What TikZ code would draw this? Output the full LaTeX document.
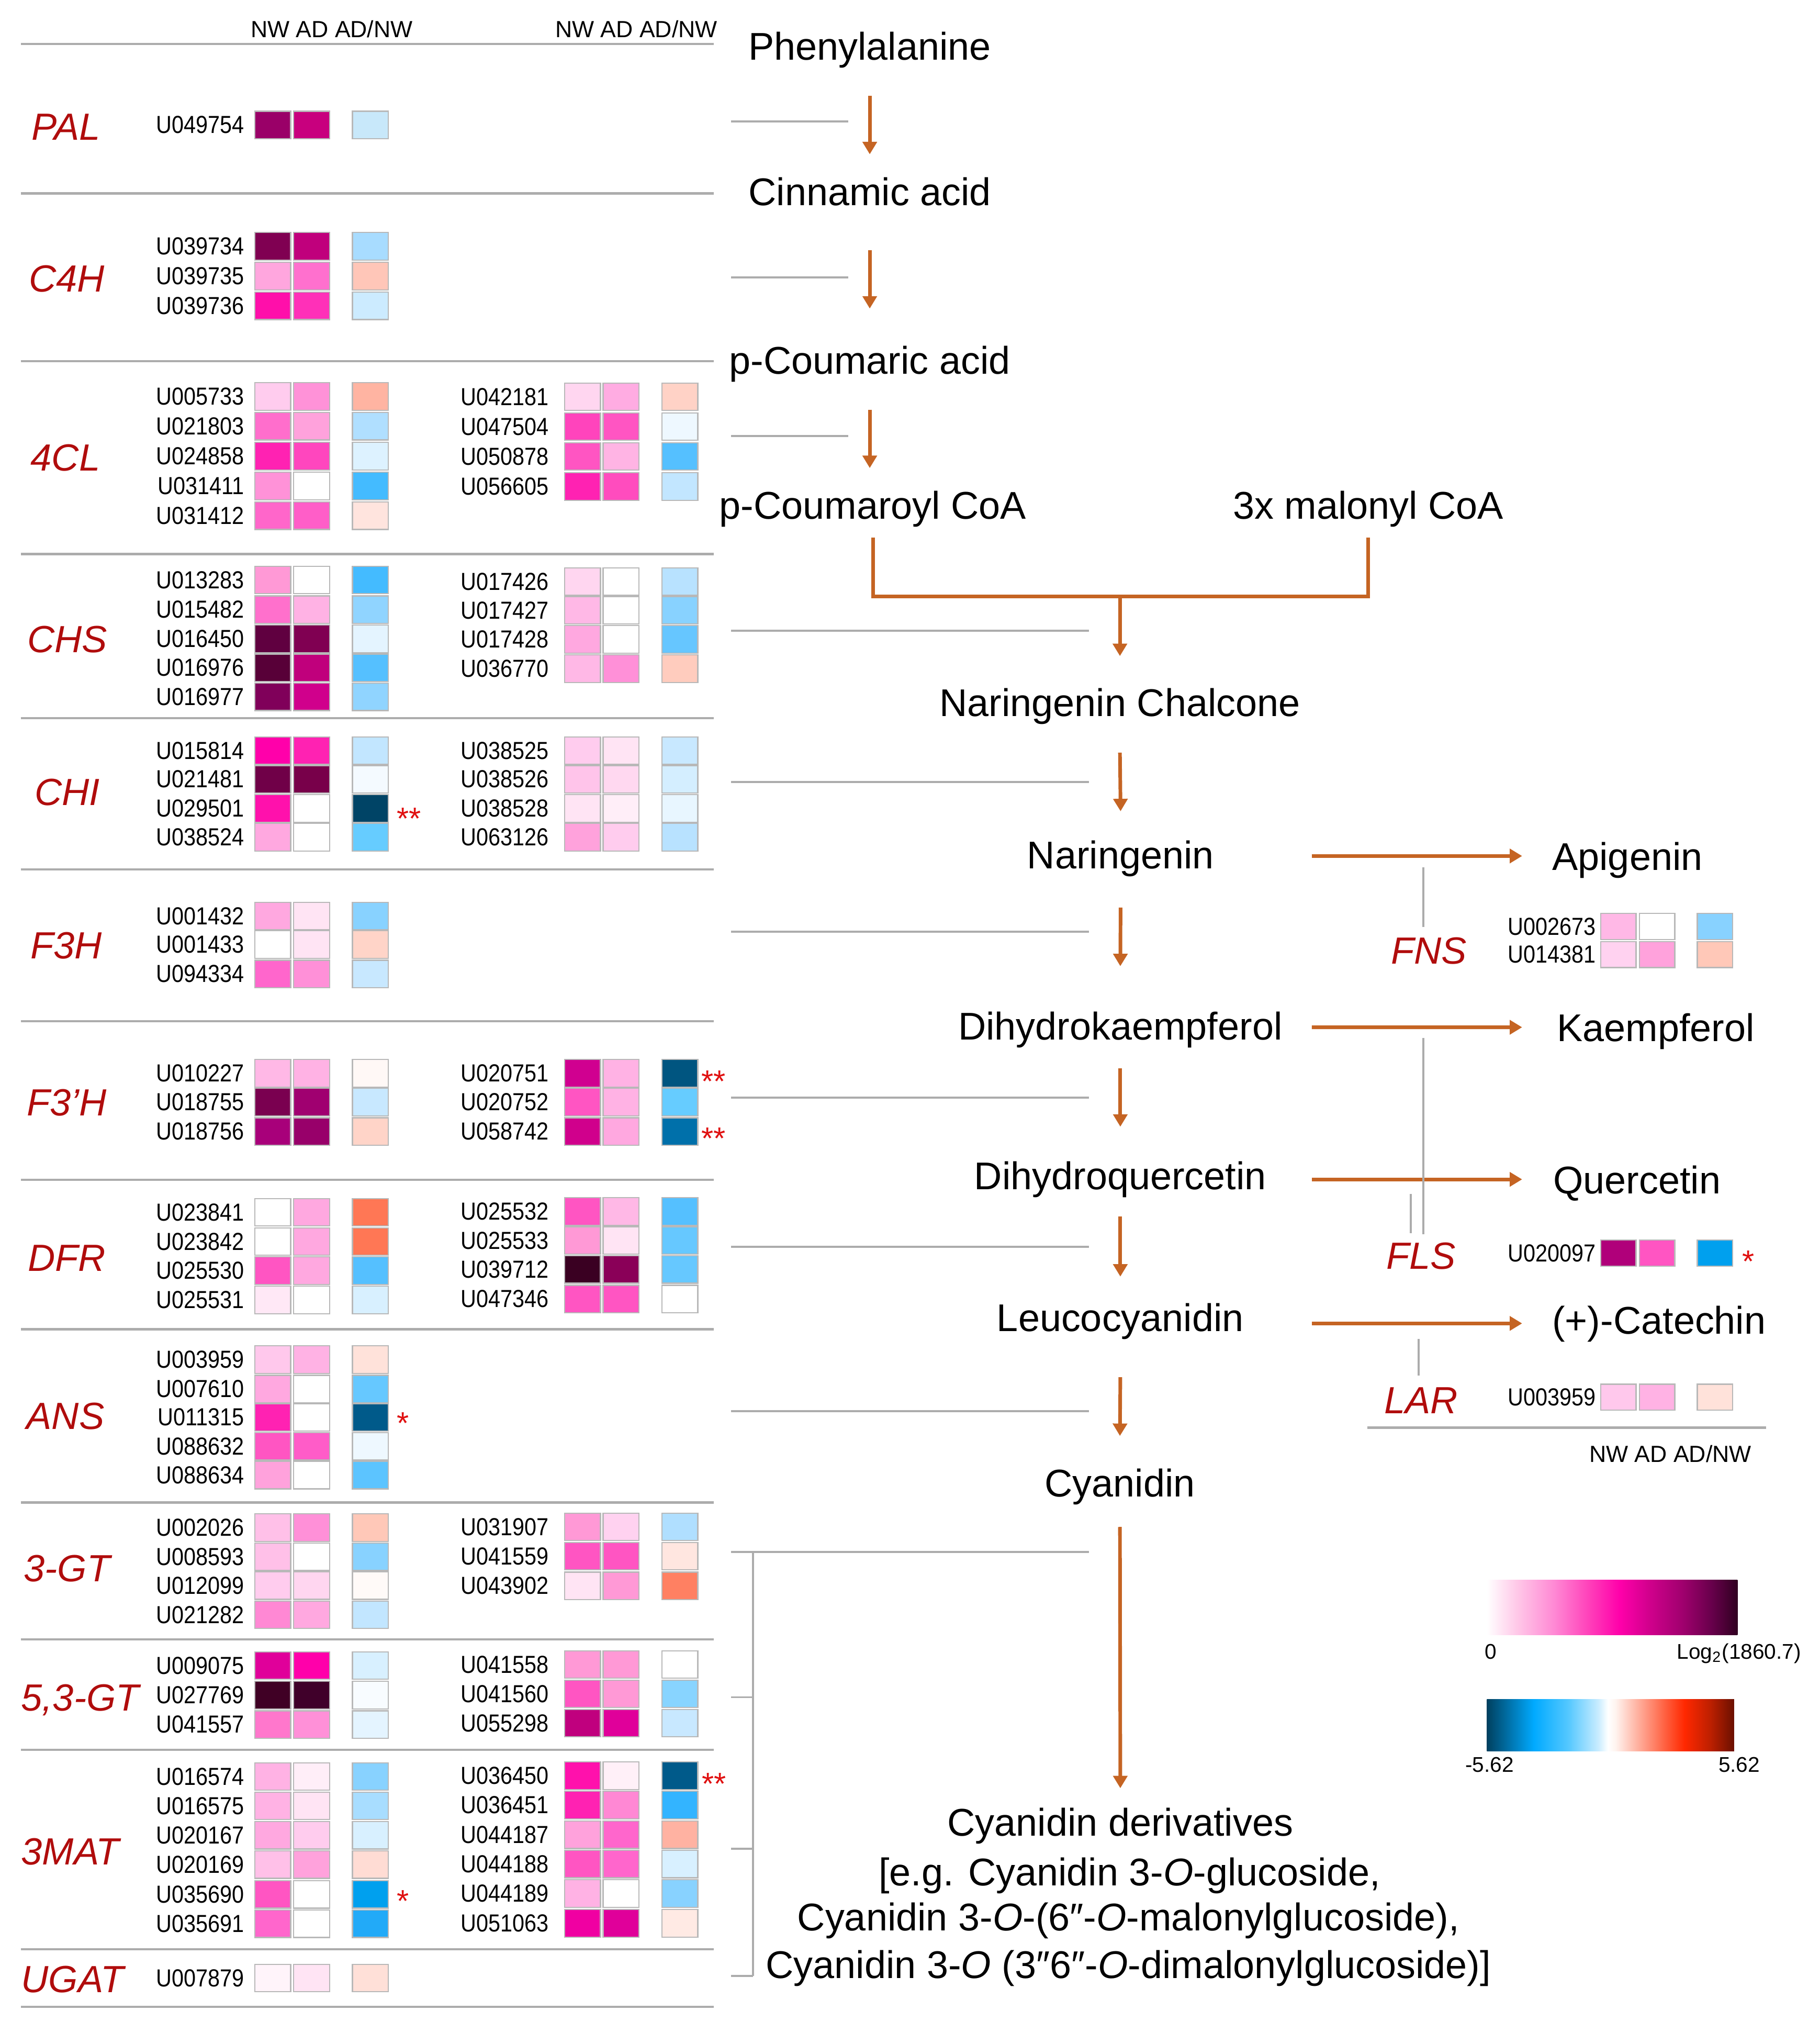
\documentclass[tikz,border=0pt]{standalone}
\usepackage{fontspec}
\setmainfont{Liberation Sans}
\newfontfamily\genefont[FakeStretch=0.88]{Liberation Sans}
\usetikzlibrary{arrows.meta,calc}
\definecolor{famred}{RGB}{176,12,12}
\definecolor{starred}{RGB}{224,16,16}
\definecolor{arrowor}{RGB}{197,100,35}
\definecolor{sepgray}{RGB}{172,172,172}
\definecolor{pk1}{HTML}{FFC8E8}
\definecolor{pk2}{HTML}{FF88D4}
\definecolor{pk3}{HTML}{FF44BB}
\definecolor{pk4}{HTML}{FF00AA}
\definecolor{pk5}{HTML}{D0008C}
\definecolor{pk6}{HTML}{A0006E}
\definecolor{pk7}{HTML}{66004A}
\definecolor{pk8}{HTML}{300020}
\definecolor{bl1}{HTML}{00405F}
\definecolor{bl2}{HTML}{00AAFF}
\definecolor{bl3}{HTML}{55C8FF}
\definecolor{bl4}{HTML}{C8ECFF}
\definecolor{rd1}{HTML}{FFF4F0}
\definecolor{rd2}{HTML}{FFB8A8}
\definecolor{rd3}{HTML}{FF6040}
\definecolor{rd4}{HTML}{FF2800}
\definecolor{rd5}{HTML}{C02000}
\definecolor{rd6}{HTML}{6B1000}
\pgfdeclarehorizontalshading{pinkbar}{100bp}{color(0bp)=(white); color(25bp)=(white); color(31bp)=(pk1); color(38.5bp)=(pk2); color(45bp)=(pk3); color(51.5bp)=(pk4); color(57.5bp)=(pk5); color(64bp)=(pk6); color(70bp)=(pk7); color(75bp)=(pk8); color(100bp)=(pk8)}
\pgfdeclarehorizontalshading{bluered}{100bp}{color(0bp)=(bl1); color(25bp)=(bl1); color(34.5bp)=(bl2); color(41.5bp)=(bl3); color(47.5bp)=(bl4); color(49.5bp)=(white); color(51bp)=(rd1); color(55bp)=(rd2); color(61bp)=(rd3); color(65bp)=(rd4); color(70bp)=(rd5); color(75bp)=(rd6); color(100bp)=(rd6)}
\tikzset{
  cellbox/.style={draw=black!28, line width=0.45pt, minimum width=13.85pt, minimum height=10.6pt, inner sep=0pt, outer sep=0pt},
  pcell/.style={cellbox, minimum width=13.65pt, minimum height=10pt},
  geneid/.style={font=\genefont\fontsize{9.5}{11}\selectfont, inner sep=0pt, anchor=east},
  famlabel/.style={font=\fontsize{14.6}{17}\selectfont\itshape, text=famred, inner sep=0pt, anchor=base},
  pathtext/.style={font=\fontsize{14.9}{18}\selectfont, inner sep=0pt, anchor=base},
  hdrtext/.style={font=\fontsize{9}{10}\selectfont, inner sep=0pt, anchor=base west},
  legtext/.style={font=\fontsize{8.2}{10}\selectfont, inner sep=0pt, anchor=base west},
  startext/.style={font=\fontsize{12}{14}\selectfont, text=starred, inner sep=0pt, anchor=base west},
  sepline/.style={draw=sepgray, line width=0.85pt},
  gline/.style={draw=sepgray, line width=0.8pt},
  oarrow/.style={draw=arrowor, line width=1.4pt, -{Triangle[width=5.4pt,length=4.8pt]}},
  oline/.style={draw=arrowor, line width=1.4pt, line join=miter},
}
\newcommand{\rowL}[6]{%
  \definecolor{tmpa}{HTML}{#4}\definecolor{tmpb}{HTML}{#5}\definecolor{tmpc}{HTML}{#6}%
  \node[geneid] (#1) at (188.7,#2) {#3};
  \node[cellbox,fill=tmpa] (#1-nw) at (210.4,#2) {};
  \node[cellbox,fill=tmpb] (#1-ad) at (240.4,#2) {};
  \node[cellbox,fill=tmpc] (#1-r) at (285.7,#2) {};
}
\newcommand{\rowR}[6]{%
  \definecolor{tmpa}{HTML}{#4}\definecolor{tmpb}{HTML}{#5}\definecolor{tmpc}{HTML}{#6}%
  \node[geneid] (#1) at (423.6,#2) {#3};
  \node[cellbox,fill=tmpa] (#1-nw) at (449.4,#2) {};
  \node[cellbox,fill=tmpb] (#1-ad) at (479.1,#2) {};
  \node[cellbox,fill=tmpc] (#1-r) at (524.5,#2) {};
}
\newcommand{\rowP}[6]{%
  \definecolor{tmpa}{HTML}{#4}\definecolor{tmpb}{HTML}{#5}\definecolor{tmpc}{HTML}{#6}%
  \node[geneid] (#1) at (1231.4,#2) {#3};
  \node[pcell,fill=tmpa] (#1-nw) at (1248.5,#2) {};
  \node[pcell,fill=tmpb] (#1-ad) at (1278.4,#2) {};
  \node[pcell,fill=tmpc] (#1-r) at (1323.1,#2) {};
}
\begin{document}
\begin{tikzpicture}[x=0.5pt,y=-0.5pt]
\fill[white] (0,0) rectangle (1404,1568);
\useasboundingbox (0,0) rectangle (1404,1568);

% headers
\node[hdrtext] (hdr1) at (193,28.8) {NW AD AD/NW};
\node[hdrtext] (hdr2) at (428,28.8) {NW AD AD/NW};

% separators
\foreach \yy in {33.9,149.2,278.4,427.3,553.8,670.7,787.7,910.1,1025.2,1158.8,1264.3,1349.7,1503.3,1547.8}
  \draw[sepline] (16,\yy) -- (550.5,\yy);

% family labels
\node[famlabel] (fPAL) at (51,107.8) {PAL};
\node[famlabel] (fC4H) at (51.5,225.2) {C4H};
\node[famlabel] (f4CL) at (50.5,363) {4CL};
\node[famlabel] (fCHS) at (52,503.1) {CHS};
\node[famlabel] (fCHI) at (52,621.1) {CHI};
\node[famlabel] (fF3H) at (51,739.3) {F3H};
\node[famlabel] (fF3pH) at (51.5,860.4) {F3’H};
\node[famlabel] (fDFR) at (51.5,980.3) {DFR};
\node[famlabel] (fANS) at (50.5,1102.4) {ANS};
\node[famlabel] (f3GT) at (51.7,1219.8) {3-GT};
\node[famlabel,anchor=base west] (f53GT) at (16,1319.6) {5,3-GT};
\node[famlabel,anchor=base west] (f3MAT) at (16,1438.1) {3MAT};
\node[famlabel,anchor=base west] (fUGAT) at (16,1536.6) {UGAT};

% PAL
\rowL{U049754}{96.4}{U049754}{9A0068}{C8007E}{C8E8FA}
% C4H
\rowL{U039734}{190}{U039734}{800052}{C0007C}{A8DCFF}
\rowL{U039735}{212.9}{U039735}{FFA6DE}{FF70CE}{FFC6B8}
\rowL{U039736}{235.9}{U039736}{FF0FAA}{FF30B8}{CCEBFF}
% 4CL
\rowL{U005733}{305.75}{U005733}{FFCCEE}{FF92D8}{FFB4A2}
\rowL{U021803}{328.75}{U021803}{FF6ECC}{FFA2DC}{B0DFFF}
\rowL{U024858}{351.8}{U024858}{FF22B2}{FF46BE}{DDF2FF}
\rowL{U031411}{374.85}{U031411}{FF92D8}{FFFFFF}{44BBFF}
\rowL{U031412}{397.75}{U031412}{FF66CA}{FF5EC8}{FFE4DE}
\rowR{U042181}{306}{U042181}{FFD6F0}{FFACE2}{FFD2C6}
\rowR{U047504}{329}{U047504}{FF44BC}{FF55C2}{EEF8FF}
\rowR{U050878}{352}{U050878}{FF55C2}{FFB4E4}{55C0FF}
\rowR{U056605}{375.2}{U056605}{FF22B2}{FF4CBE}{C2E6FF}
% CHS
\rowL{U013283}{447.3}{U013283}{FF99D6}{FFFFFF}{44BBFF}
\rowL{U015482}{470.2}{U015482}{FF70CC}{FFB2E4}{90D4FF}
\rowL{U016450}{492.7}{U016450}{600040}{800052}{E4F4FF}
\rowL{U016976}{515}{U016976}{580038}{C0007C}{55C0FF}
\rowL{U016977}{537.4}{U016977}{80005A}{D0008C}{90D4FF}
\rowR{U017426}{448.6}{U017426}{FFD6F0}{FFFFFF}{B8E2FF}
\rowR{U017427}{470.7}{U017427}{FFB8E6}{FFFFFF}{88D2FF}
\rowR{U017428}{493.1}{U017428}{FFA8E0}{FFFFFF}{66C6FF}
\rowR{U036770}{515.7}{U036770}{FFB8E6}{FF90D8}{FFCCBE}
% CHI
\rowL{U015814}{578.9}{U015814}{FF00AA}{FF22B2}{C2E6FF}
\rowL{U021481}{601}{U021481}{700048}{78004A}{F4FAFF}
\rowL{U029501}{623.5}{U029501}{FF11AC}{FFFFFF}{004466}
\rowL{U038524}{645.7}{U038524}{FFA8E0}{FFFFFF}{66CCFF}
\rowR{U038525}{578.9}{U038525}{FFCCEE}{FFE4F4}{C8E8FF}
\rowR{U038526}{601}{U038526}{FFC4EA}{FFD8F0}{D4EEFF}
\rowR{U038528}{623.5}{U038528}{FFE4F4}{FFEEF8}{E8F6FF}
\rowR{U063126}{645.7}{U063126}{FFA2DC}{FFCCEE}{B8E2FF}
\node[startext] (st1) at (305.7,639.6) {**};
% F3H
\rowL{U001432}{706.5}{U001432}{FFA8E0}{FFE4F4}{88D2FF}
\rowL{U001433}{728.5}{U001433}{FFFFFF}{FFE4F4}{FFD4C8}
\rowL{U094334}{751.2}{U094334}{FF66CC}{FF90D8}{C8E8FF}
% F3'H
\rowL{U010227}{827.8}{U010227}{FFB8E6}{FFB2E4}{FFF8F6}
\rowL{U018755}{850}{U018755}{7A0050}{A00070}{C8E8FF}
\rowL{U018756}{872.7}{U018756}{A8007A}{98006A}{FFD4C8}
\rowR{U020751}{827.8}{U020751}{D00090}{FFB2E4}{005580}
\rowR{U020752}{850}{U020752}{FF55C2}{FFB2E4}{66CCFF}
\rowR{U058742}{872.7}{U058742}{D0008C}{FFA8E0}{0070AA}
\node[startext] (st2) at (540.8,842.3) {**};
\node[startext] (st3) at (540.8,886.3) {**};
% DFR
\rowL{U023841}{935}{U023841}{FFFFFF}{FFA8E0}{FF7755}
\rowL{U023842}{957.6}{U023842}{FFFFFF}{FFA8E0}{FF7755}
\rowL{U025530}{980}{U025530}{FF55C2}{FFA8E0}{55C0FF}
\rowL{U025531}{1002.6}{U025531}{FFE8F6}{FFFFFF}{D8F0FF}
\rowR{U025532}{934.4}{U025532}{FF55C2}{FFB8E6}{55C0FF}
\rowR{U025533}{956.7}{U025533}{FF99D6}{FFE4F4}{66C8FF}
\rowR{U039712}{979.1}{U039712}{3A0022}{8A0058}{66C8FF}
\rowR{U047346}{1001.9}{U047346}{FF55C2}{FF55C2}{FFFFFF}
% ANS
\rowL{U003959}{1048.6}{U003959}{FFC8EC}{FFB2E4}{FFE2DA}
\rowL{U007610}{1071.3}{U007610}{FFA8E0}{FFFFFF}{66C8FF}
\rowL{U011315}{1093.1}{U011315}{FF22B2}{FFFFFF}{005A8A}
\rowL{U088632}{1115.5}{U088632}{FF55C2}{FF5CC8}{EEF8FF}
\rowL{U088634}{1137.7}{U088634}{FFA2DC}{FFFFFF}{5CC4FF}
\node[startext] (st4) at (305.7,1105.8) {*};
% 3-GT
\rowL{U002026}{1178.2}{U002026}{FFC0E8}{FF90D8}{FFC8B8}
\rowL{U008593}{1200.7}{U008593}{FFC0E8}{FFFFFF}{88D2FF}
\rowL{U012099}{1222.9}{U012099}{FFCCEE}{FFD6F0}{FFFAF8}
\rowL{U021282}{1245.4}{U021282}{FF88D4}{FFA8E0}{C2E6FF}
\rowR{U031907}{1177.6}{U031907}{FF99D6}{FFD2F0}{B0DFFF}
\rowR{U041559}{1200.2}{U041559}{FF55C2}{FF55C2}{FFE6E0}
\rowR{U043902}{1223.1}{U043902}{FFE4F4}{FF99D6}{FF8062}
% 5,3-GT
\rowL{U009075}{1284.6}{U009075}{E0009A}{FF00AA}{D8F0FF}
\rowL{U027769}{1307.4}{U027769}{400025}{40002A}{F8FCFF}
\rowL{U041557}{1330.1}{U041557}{FF77CC}{FF90D8}{E4F4FF}
\rowR{U041558}{1283.8}{U041558}{FF99D6}{FF99D6}{FFFFFF}
\rowR{U041560}{1306.4}{U041560}{FF55C2}{FF99D6}{88D4FF}
\rowR{U055298}{1329}{U055298}{C0007E}{E0009A}{C8E8FF}
% 3MAT
\rowL{U016574}{1370.2}{U016574}{FFB2E4}{FFEEF8}{88D2FF}
\rowL{U016575}{1392.8}{U016575}{FFB2E4}{FFE4F4}{A8DDFF}
\rowL{U020167}{1415.5}{U020167}{FFA8E0}{FFCCEE}{D8F0FF}
\rowL{U020169}{1438.1}{U020169}{FFC0E8}{FFA2DC}{FFDCD4}
\rowL{U035690}{1461.1}{U035690}{FF55C2}{FFFFFF}{00A0EE}
\rowL{U035691}{1483.7}{U035691}{FF66CC}{FFFFFF}{22AAF8}
\rowR{U036450}{1369.6}{U036450}{FF11AC}{FFF0F8}{005A8A}
\rowR{U036451}{1392.2}{U036451}{FF22B2}{FF88D4}{33B4FF}
\rowR{U044187}{1415.1}{U044187}{FFA2DC}{FF66CC}{FFB2A2}
\rowR{U044188}{1437.7}{U044188}{FF55C2}{FF66CC}{D8F0FF}
\rowR{U044189}{1460.4}{U044189}{FFB2E4}{FFFFFF}{88D2FF}
\rowR{U051063}{1483.4}{U051063}{F000A2}{E0009A}{FFEAE4}
\node[startext] (st5) at (305.7,1474.7) {*};
\node[startext] (st6) at (541,1384.2) {**};
% UGAT
\rowL{U007879}{1525.6}{U007879}{FFF4FA}{FFE4F4}{FFE0D8}

% pathway compounds
\node[pathtext] (phen) at (671,46.1) {Phenylalanine};
\node[pathtext] (cinn) at (671,158.6) {Cinnamic acid};
\node[pathtext] (pcou) at (671,288.4) {p-Coumaric acid};
\node[pathtext] (pcoa) at (673.4,400.2) {p-Coumaroyl CoA};
\node[pathtext] (malo) at (1055.6,400.2) {3x malonyl CoA};
\node[pathtext] (chal) at (864,552.5) {Naringenin Chalcone};
\node[pathtext] (nar) at (864.5,670) {Naringenin};
\node[pathtext] (dhk) at (864.3,802.1) {Dihydrokaempferol};
\node[pathtext] (dhq) at (864.3,917.6) {Dihydroquercetin};
\node[pathtext] (leu) at (864.3,1027) {Leucocyanidin};
\node[pathtext] (cya) at (864,1154.2) {Cyanidin};
\node[pathtext] (der1) at (864.3,1416) {Cyanidin derivatives};
\node[pathtext] (der2) at (871.4,1454.2) {[e.g. Cyanidin 3-\textit{O}-glucoside,};
\node[pathtext] (der3) at (870.5,1489.2) {Cyanidin 3-\textit{O}-(6″-\textit{O}-malonylglucoside),};
\node[pathtext] (der4) at (870.5,1525.7) {Cyanidin 3-\textit{O} (3″6″-\textit{O}-dimalonylglucoside)]};
\node[pathtext,anchor=base west] (api) at (1197.1,671) {Apigenin};
\node[pathtext,anchor=base west] (kae) at (1200.7,803.2) {Kaempferol};
\node[pathtext,anchor=base west] (que) at (1197.9,920.5) {Quercetin};
\node[pathtext,anchor=base west] (cat) at (1197.1,1029) {(+)-Catechin};

% main arrows
\draw[oarrow] ([yshift=-13.9pt]phen.base) -- ([yshift=19.8pt]cinn.base);
\draw[oarrow] ([yshift=-17.15pt]cinn.base) -- ([yshift=25.2pt]pcou.base);
\draw[oarrow] ([yshift=-13.8pt]pcou.base) -- ($(pcoa.base -| pcou.base)+(0,-39.2)$);
\coordinate (join) at (864,460);
\draw[oline] ([yshift=-7.2pt]pcoa.base) |- (join) -| ([yshift=-7.2pt]malo.base);
\draw[oarrow] (join) -- ([yshift=23.25pt]chal.base);
\draw[oarrow] ([yshift=-14pt]chal.base) -- ([yshift=22.15pt]nar.base);
\draw[oarrow] ([yshift=-15pt]nar.base) -- ([yshift=28.45pt]dhk.base);
\draw[oarrow] ([yshift=-10.9pt]dhk.base) -- ([yshift=24.3pt]dhq.base);
\draw[oarrow] ([yshift=-10.4pt]dhq.base) -- ([yshift=21.2pt]leu.base);
\draw[oarrow] ([yshift=-17.6pt]leu.base) -- ([yshift=23.35pt]cya.base);
\draw[oarrow] ([yshift=-11.75pt]cya.base) -- ([yshift=18.4pt]der1.base);
% side arrows
\draw[oarrow] ($(nar.base)+(147.5,-9.8)$) -- ($(api.base west)+(-22.8,-10.8)$);
\draw[oarrow] ($(dhk.base)+(147.7,-9.8)$) -- ($(kae.base west)+(-26.4,-10.9)$);
\draw[oarrow] ($(dhq.base)+(147.7,-8)$) -- ($(que.base west)+(-23.6,-10.9)$);
\draw[oarrow] ($(leu.base)+(147.7,-6.3)$) -- ($(cat.base west)+(-22.8,-8.3)$);

% gray enzyme links (left)
\draw[gline] (564,93.7) -- (654.6,93.7);
\draw[gline] (564,213.8) -- (654.6,213.8);
\draw[gline] (564,336.3) -- (654.6,336.3);
\foreach \yy in {486.3,603,718.4,846.6,961.6,1088.5}
  \draw[gline] (564,\yy) -- (840.3,\yy);
\draw[gline] (564,1197) -- (840.3,1197);
\draw[gline] (581,1197) -- (581,1524.1);
\draw[gline] (564,1309) -- (581,1309);
\draw[gline] (564,1425.7) -- (581,1425.7);
\draw[gline] (564,1524.1) -- (581,1524.1);

% right panel enzymes
\node[famlabel] (fFNS) at (1102.4,743.5) {FNS};
\node[famlabel] (fFLS) at (1096.2,978.9) {FLS};
\node[famlabel] (fLAR) at (1096.2,1090.4) {LAR};
\draw[gline] (1098,669) -- (1098,715);
\draw[gline] (1098,800.5) -- (1098,952.1);
\draw[gline] (1088.3,921) -- (1088.3,951.1);
\draw[gline] (1094.6,1032.5) -- (1094.6,1060.9);
\rowP{U002673}{714.5}{U002673}{FFB8E6}{FFFFFF}{88D2FF}
\rowP{U014381}{736.2}{U014381}{FFD2F0}{FFA2DC}{FFC8B8}
\rowP{U020097}{966.5}{U020097}{B0007A}{FF55C2}{00A0EE}
\node[startext] (st7) at (1343.6,981.2) {*};
\rowP{lar1}{1077.6}{U003959}{FFC8EC}{FFB2E4}{FFE2DA}
\draw[sepline] (1055,1101.1) -- (1362.5,1101.1);
\node[hdrtext] (hdr3) at (1225.7,1127.9) {NW AD AD/NW};

% legend
\shade[shading=pinkbar] (1147.1,1218.4) rectangle (1340.4,1261);
\node[legtext] (l0) at (1145,1279.5) {0};
\node[legtext] (lmax) at (1293.3,1279.5) {Log\textsubscript{2}(1860.7)};
\shade[shading=bluered] (1147.1,1310.8) rectangle (1337.8,1350.4);
\node[legtext] (lneg) at (1130,1366.8) {-5.62};
\node[legtext] (lpos) at (1325.4,1366.8) {5.62};
\end{tikzpicture}
\end{document}
